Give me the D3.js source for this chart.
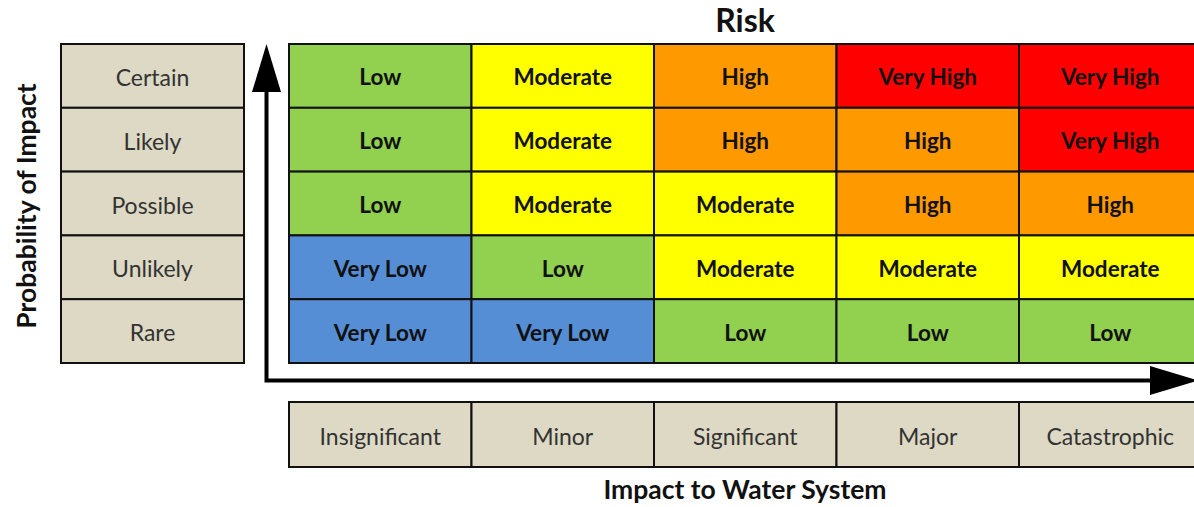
<!DOCTYPE html>
<html><head><meta charset="utf-8">
<script src="https://cdn.jsdelivr.net/npm/d3@7"></script>
<style>html,body{margin:0;padding:0;background:#fff;}svg{display:block;}</style>
</head><body>
<svg id="chart" width="1194" height="507"></svg>
<script>
const impacts = ["Insignificant", "Minor", "Significant", "Major", "Catastrophic"];
const probabilities = ["Certain", "Likely", "Possible", "Unlikely", "Rare"];
const riskLevels = ["Very Low", "Low", "Moderate", "High", "Very High"];
const riskColors = ["#558ED5", "#92D050", "#FFFF00", "#FF9900", "#FF0000"];
// risk matrix rows follow probabilities (top to bottom), columns follow impacts
const riskCertain  = ["Low", "Moderate", "High", "Very High", "Very High"];
const riskLikely   = ["Low", "Moderate", "High", "High", "Very High"];
const riskPossible = ["Low", "Moderate", "Moderate", "High", "High"];
const riskUnlikely = ["Very Low", "Low", "Moderate", "Moderate", "Moderate"];
const riskRare     = ["Very Low", "Very Low", "Low", "Low", "Low"];
const title = "Risk";
const xTitle = "Impact to Water System";
const yTitle = "Probability of Impact";

const matrix = [riskCertain, riskLikely, riskPossible, riskUnlikely, riskRare];
const cells = [];
probabilities.forEach((p, i) => impacts.forEach((im, j) => cells.push({p, im, risk: matrix[i][j]})));

const svg = d3.select("#chart");
const font = "Lato, 'Open Sans', sans-serif";
const gridLeft = 289, colW = 182.5, gridTop = 44, gridBottom = 363;
const x = d3.scaleBand().domain(impacts).range([gridLeft, gridLeft + colW * impacts.length]);
const y = d3.scaleBand().domain(probabilities).range([gridTop, gridBottom]);
const color = d3.scaleOrdinal().domain(riskLevels).range(riskColors);
const beige = "#DDD9C4";

// grid cells
const g = svg.append("g");
g.selectAll("rect.cell").data(cells).join("rect")
  .attr("class", "cell")
  .attr("x", d => x(d.im)).attr("y", d => y(d.p))
  .attr("width", x.bandwidth()).attr("height", y.bandwidth())
  .attr("fill", d => color(d.risk))
  .attr("stroke", "#111").attr("stroke-width", 2);
g.selectAll("text.cell").data(cells).join("text")
  .attr("class", "cell")
  .attr("x", d => x(d.im) + x.bandwidth() / 2)
  .attr("y", d => y(d.p) + y.bandwidth() / 2 + 1)
  .attr("text-anchor", "middle").attr("dominant-baseline", "central")
  .style("font-family", font).style("font-weight", "bold").style("font-size", "22.5px")
  .attr("fill", "#111")
  .text(d => d.risk);

// left probability labels
const leftX = 61, leftW = 183;
svg.append("g").selectAll("rect").data(probabilities).join("rect")
  .attr("x", leftX).attr("y", d => y(d)).attr("width", leftW).attr("height", y.bandwidth())
  .attr("fill", beige).attr("stroke", "#111").attr("stroke-width", 2);
svg.append("g").selectAll("text").data(probabilities).join("text")
  .attr("x", leftX + leftW / 2).attr("y", d => y(d) + y.bandwidth() / 2 + 1)
  .attr("text-anchor", "middle").attr("dominant-baseline", "central")
  .style("font-family", font).style("font-size", "23px").attr("fill", "#333")
  .text(d => d);

// bottom impact labels
const botTop = 402, botH = 65;
svg.append("g").selectAll("rect").data(impacts).join("rect")
  .attr("x", d => x(d)).attr("y", botTop).attr("width", x.bandwidth()).attr("height", botH)
  .attr("fill", beige).attr("stroke", "#111").attr("stroke-width", 2);
svg.append("g").selectAll("text").data(impacts).join("text")
  .attr("x", d => x(d) + x.bandwidth() / 2).attr("y", botTop + botH / 2 + 1)
  .attr("text-anchor", "middle").attr("dominant-baseline", "central")
  .style("font-family", font).style("font-size", "23px").attr("fill", "#333")
  .text(d => d);

// axes arrows
const ax = 266.5, ay = 380.5;
svg.append("path")
  .attr("d", `M${ax},92 L${ax},${ay} L1152,${ay}`)
  .attr("fill", "none").attr("stroke", "#000").attr("stroke-width", 4);
svg.append("path")
  .attr("d", `M${ax},44 L${ax - 14.5},92 L${ax + 14.5},92 Z`).attr("fill", "#000");
svg.append("path")
  .attr("d", `M1198,${ay} L1150,${ay - 14.5} L1150,${ay + 14.5} Z`).attr("fill", "#000");

// titles
svg.append("text").attr("x", 745).attr("y", 32).attr("text-anchor", "middle")
  .style("font-family", font).style("font-weight", "bold").style("font-size", "32px")
  .attr("fill", "#111").text(title);
svg.append("text").attr("x", 745).attr("y", 499).attr("text-anchor", "middle")
  .style("font-family", font).style("font-weight", "bold").style("font-size", "26.5px")
  .attr("fill", "#111").text(xTitle);
svg.append("text").attr("transform", "translate(36,206) rotate(-90)").attr("text-anchor", "middle")
  .style("font-family", font).style("font-weight", "bold").style("font-size", "26.5px")
  .attr("fill", "#111").text(yTitle);
</script>
</body></html>
